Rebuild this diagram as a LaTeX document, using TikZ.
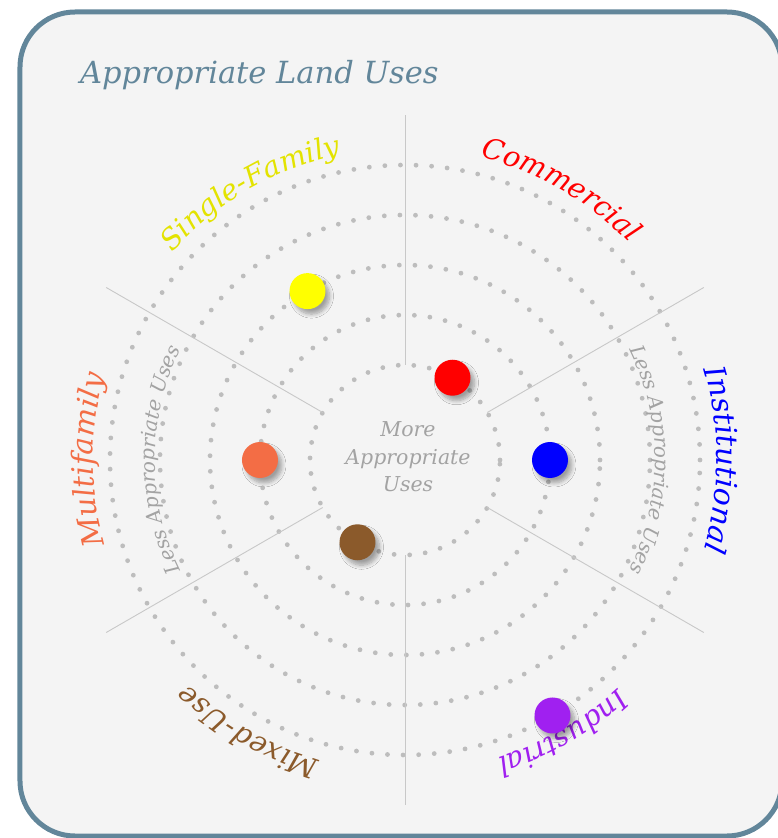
\documentclass[tikz,border=0pt]{standalone}
\usepackage{fontspec}
\setmainfont{DejaVu Serif}
\usetikzlibrary{decorations.text, shadows.blur}
\definecolor{frameBlue}{HTML}{62869A}
\definecolor{panelGray}{HTML}{F4F4F4}
\definecolor{ringGray}{HTML}{BDBDBD}
\definecolor{spokeGray}{HTML}{C8C8C8}
\definecolor{softText}{HTML}{A3A3A3}
\definecolor{sfYellow}{HTML}{FFFF00}
\definecolor{sfLabel}{HTML}{E3E300}
\definecolor{mfOrange}{HTML}{F36D45}
\definecolor{muBrown}{HTML}{8B5A2B}
\definecolor{inPurple}{HTML}{A020F0}

\begin{document}
\begin{tikzpicture}[x=1pt, y=1pt,
  ring/.style={ringGray, line width=4.8pt, line cap=round, dash pattern=on 0pt off 15.6pt},
  spoke/.style={spokeGray, line width=0.9pt},
  usedot/.style={circle, fill=#1, minimum size=36pt, inner sep=0pt,
    blur shadow={shadow xshift=4pt, shadow yshift=-5pt, shadow blur radius=4pt,
      shadow blur steps=8, shadow opacity=35}},
  ringtext/.style n args={3}{decorate, decoration={text along path, text align=center,
    text color=#3, text={|\fontsize{#1}{#1}\selectfont\itshape|#2}}}
]
  \useasboundingbox (-405,-378) rectangle (373,460);
  \clip (-405,-378) rectangle (373,460);

  % panel
  \draw[frameBlue, line width=5pt, fill=panelGray, rounded corners=55pt] (-385,-376) rectangle (377,448);
  \node[anchor=base west, text=frameBlue, font=\fontsize{30.5}{33}\selectfont\itshape, inner sep=0pt]
    (title) at (-325,376) {Appropriate Land Uses};

  % rings and spokes
  \foreach \r in {95,145,...,295}
    \draw[ring] (0,0) circle[radius=\r];
  \foreach \a in {30,90,...,330}
    \draw[spoke] (\a:95) -- (\a:345);

  % inner labels
  \node[text=softText, align=center, font=\fontsize{20.5}{27.5}\selectfont\itshape] (more) at (3,3)
    {More\\Appropriate\\Uses};
  \path[ringtext={20}{Less Appropriate Uses}{softText}]
    (225:250) arc[start angle=225, end angle=135, radius=250];
  \path[ringtext={20}{Less Appropriate Uses}{softText}]
    (45:250) arc[start angle=45, end angle=-45, radius=250];

  % outer labels
  \path[ringtext={28.5}{Commercial}{red}]
    (105:312) arc[start angle=105, end angle=15, radius=312];
  \path[ringtext={29.5}{Institutional}{blue}]
    (45:312) arc[start angle=45, end angle=-45, radius=312];
  \path[ringtext={28.5}{Industrial}{inPurple}]
    (-15:312) arc[start angle=-15, end angle=-105, radius=312];
  \path[ringtext={28.5}{Mixed-Use}{muBrown}]
    (-75:312) arc[start angle=-75, end angle=-165, radius=312];
  \path[ringtext={29.5}{Multifamily}{mfOrange}]
    (-135:312) arc[start angle=-135, end angle=-225, radius=312];
  \path[ringtext={28.5}{Single-Family}{sfLabel}]
    (165:312) arc[start angle=165, end angle=75, radius=312];

  % land use dots
  \node[usedot=red] (commercial) at (60:95) {};
  \node[usedot=blue] (institutional) at (0:145) {};
  \node[usedot=mfOrange] (multifamily) at (180:145) {};
  \node[usedot=sfYellow] (singlefamily) at (120:195) {};
  \node[usedot=muBrown] (mixeduse) at (240:95) {};
  \node[usedot=inPurple] (industrial) at (300:295) {};
\end{tikzpicture}
\end{document}
